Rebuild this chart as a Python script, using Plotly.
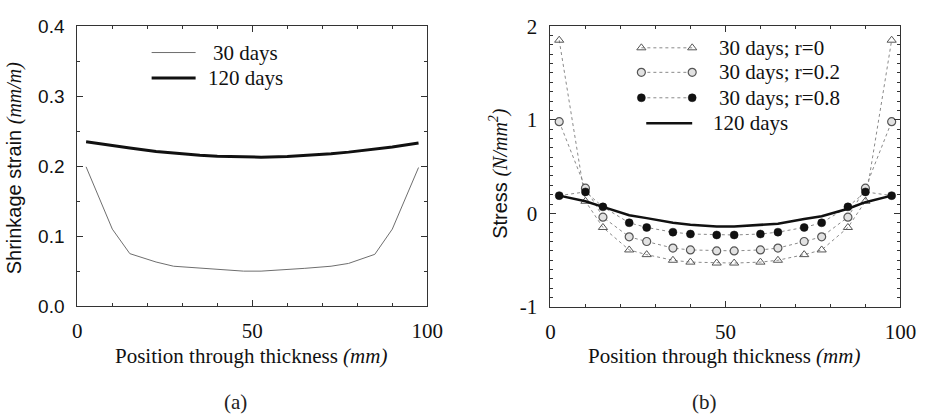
import plotly.graph_objects as go

# ---------------- data ----------------
pos = [2.5, 10, 15, 22.5, 27.5, 35, 40, 47.5, 52.5, 60, 65, 72.5, 77.5, 85, 90, 97.5]

shrink_30 = [0.199, 0.110, 0.075, 0.063, 0.057, 0.054, 0.052, 0.050,
             0.050, 0.052, 0.054, 0.057, 0.061, 0.074, 0.110, 0.198]
shrink_120 = [0.235, 0.2290, 0.2260, 0.2210, 0.2185, 0.2155, 0.2140, 0.2128,
              0.2128, 0.2138, 0.2152, 0.2178, 0.2200, 0.2240, 0.2272, 0.233]

stress_r0 = [1.85, 0.13, -0.15, -0.39, -0.44, -0.50, -0.52, -0.53,
             -0.53, -0.52, -0.50, -0.44, -0.39, -0.15, 0.13, 1.85]
stress_r02 = [0.98, 0.27, -0.04, -0.25, -0.30, -0.37, -0.39, -0.40,
              -0.40, -0.39, -0.37, -0.30, -0.25, -0.04, 0.27, 0.98]
stress_r08 = [0.19, 0.23, 0.07, -0.10, -0.15, -0.20, -0.22, -0.23,
              -0.23, -0.22, -0.20, -0.15, -0.10, 0.07, 0.23, 0.19]
stress_120 = [0.19, 0.13, 0.07, -0.02, -0.05, -0.10, -0.12, -0.14,
              -0.14, -0.12, -0.11, -0.06, -0.03, 0.05, 0.12, 0.19]

stress_ticks = [-1, 0, 1, 2]
stress_ticktext = ["-1", "0", "1", "2"]

legend_a = ["30 days", "120 days"]
legend_b = ["30 days; r=0", "30 days; r=0.2", "30 days; r=0.8", "120 days"]

W, H = 934, 419
SERIF = "Liberation Serif"
SANS = "Liberation Sans"
AX = "#333333"
FS = 21


def px(x):
    return x / W


def py(y):
    return 1 - y / H


fig = go.Figure()

# ---------------- panel (a) ----------------
fig.add_trace(go.Scatter(x=pos, y=shrink_30, mode="lines", xaxis="x", yaxis="y",
                         line=dict(color="#6e6e6e", width=1), showlegend=False))
fig.add_trace(go.Scatter(x=pos, y=shrink_120, mode="lines", xaxis="x", yaxis="y",
                         line=dict(color="#111111", width=3), showlegend=False))

# ---------------- panel (b) ----------------
dot_line = dict(color="#8a8a8a", width=1, dash="dot")
mk_tri = dict(symbol="triangle-up-open", size=8, color="#555555", line=dict(width=1, color="#555555"))
mk_open = dict(symbol="circle", size=8, color="#e2e2e2", line=dict(width=1.2, color="#555555"))
mk_full = dict(symbol="circle", size=8, color="#111111", line=dict(width=0.5, color="#111111"))

fig.add_trace(go.Scatter(x=pos, y=stress_r0, mode="lines+markers", xaxis="x2", yaxis="y2",
                         line=dot_line, marker=mk_tri, showlegend=False))
fig.add_trace(go.Scatter(x=pos, y=stress_r02, mode="lines+markers", xaxis="x2", yaxis="y2",
                         line=dot_line, marker=mk_open, showlegend=False))
fig.add_trace(go.Scatter(x=pos, y=stress_r08, mode="lines+markers", xaxis="x2", yaxis="y2",
                         line=dot_line, marker=mk_full, showlegend=False))
fig.add_trace(go.Scatter(x=pos, y=stress_120, mode="lines", xaxis="x2", yaxis="y2",
                         line=dict(color="#111111", width=2.5), showlegend=False))

# ---------------- hand-drawn legends (pixel overlay axis) ----------------
leg_a_rows = [43, 70]
fig.add_trace(go.Scatter(x=[150, 195], y=[leg_a_rows[0]] * 2, mode="lines", xaxis="x3", yaxis="y3",
                         line=dict(color="#6e6e6e", width=1), showlegend=False, hoverinfo="skip"))
fig.add_trace(go.Scatter(x=[150, 195], y=[leg_a_rows[1]] * 2, mode="lines", xaxis="x3", yaxis="y3",
                         line=dict(color="#111111", width=3), showlegend=False, hoverinfo="skip"))

leg_b_rows = [38, 64, 91, 118]
for row, mk in zip(leg_b_rows[:3], [mk_tri, mk_open, mk_full]):
    fig.add_trace(go.Scatter(x=[651, 703], y=[row] * 2, mode="lines+markers", xaxis="x3", yaxis="y3",
                             line=dot_line, marker=mk, showlegend=False, hoverinfo="skip"))
fig.add_trace(go.Scatter(x=[656, 703], y=[leg_b_rows[3]] * 2, mode="lines", xaxis="x3", yaxis="y3",
                         line=dict(color="#111111", width=2.5), showlegend=False, hoverinfo="skip"))

annotations = []
for txt, row, x0 in zip(legend_a, leg_a_rows, [211, 206]):
    annotations.append(dict(x=px(x0), y=py(row), xref="paper", yref="paper", text=txt,
                            showarrow=False, xanchor="left", yanchor="middle",
                            font=dict(family=SERIF, size=FS, color="#111")))
for txt, row, x0 in zip(legend_b, leg_b_rows, [728, 728, 728, 722]):
    annotations.append(dict(x=px(x0), y=py(row), xref="paper", yref="paper", text=txt,
                            showarrow=False, xanchor="left", yanchor="middle",
                            font=dict(family=SERIF, size=FS, color="#111")))

# axis titles
xt = "Position through thickness <i>(mm)</i>"
annotations.append(dict(x=px(252), y=py(365), xref="paper", yref="paper", text=xt,
                        showarrow=False, xanchor="center", yanchor="middle",
                        font=dict(family=SERIF, size=FS, color="#111")))
annotations.append(dict(x=px(736), y=py(365), xref="paper", yref="paper", text=xt,
                        showarrow=False, xanchor="center", yanchor="middle",
                        font=dict(family=SERIF, size=FS, color="#111")))
annotations.append(dict(x=px(10), y=py(165), xref="paper", yref="paper",
                        text="Shrinkage strain <i><span style=\"font-family:Liberation Serif\">(mm/m)</span></i>",
                        textangle=-90, showarrow=False, xanchor="center", yanchor="middle",
                        font=dict(family=SANS, size=20, color="#111")))
annotations.append(dict(x=px(505), y=py(171), xref="paper", yref="paper",
                        text="Stress <i><span style=\"font-family:Liberation Serif\">(N/mm<sup>2</sup>)</span></i>",
                        textangle=-90, showarrow=False, xanchor="center", yanchor="middle",
                        font=dict(family=SANS, size=20, color="#111")))
# captions
annotations.append(dict(x=px(236), y=py(414), xref="paper", yref="paper", text="(a)",
                        showarrow=False, xanchor="center", yanchor="middle",
                        font=dict(family=SERIF, size=FS, color="#222")))
annotations.append(dict(x=px(716), y=py(414), xref="paper", yref="paper", text="(b)",
                        showarrow=False, xanchor="center", yanchor="middle",
                        font=dict(family=SERIF, size=FS, color="#222")))

common_axis = dict(showline=True, linecolor=AX, linewidth=1, mirror="ticks",
                   ticks="inside", ticklen=6, tickcolor=AX, showgrid=False, zeroline=False)

fig.update_layout(
    width=W, height=H,
    margin=dict(l=0, r=0, t=0, b=0),
    paper_bgcolor="white", plot_bgcolor="rgba(0,0,0,0)",
    annotations=annotations,
    xaxis=dict(domain=[px(74), px(432)], range=[0, 100], dtick=50, anchor="y",
               tickfont=dict(family=SERIF, size=FS, color="#111"), ticklabelstandoff=6,
               minor=dict(dtick=10, ticks="inside", ticklen=3, tickcolor=AX),
               **common_axis),
    yaxis=dict(domain=[py(312), py(15)], range=[0, 0.4], dtick=0.1, tickformat=".1f", anchor="x",
               tickfont=dict(family=SANS, size=19, color="#111"), ticklabelstandoff=8,
               minor=dict(dtick=0.05, ticks="inside", ticklen=3, tickcolor=AX),
               **common_axis),
    xaxis2=dict(domain=[px(558), px(916)], range=[0, 100], dtick=50, anchor="y2",
                tickfont=dict(family=SERIF, size=FS, color="#111"), ticklabelstandoff=6,
                minor=dict(dtick=10, ticks="inside", ticklen=3, tickcolor=AX),
                **common_axis),
    yaxis2=dict(domain=[py(313), py(15)], range=[-1, 2], tickvals=stress_ticks,
                ticktext=stress_ticktext, anchor="x2",
                tickfont=dict(family=SERIF, size=FS, color="#111"), ticklabelstandoff=8,
                minor=dict(dtick=0.1, ticks="inside", ticklen=3, tickcolor=AX),
                **common_axis),
    xaxis3=dict(domain=[0, 1], range=[0, W], visible=False, anchor="y3", fixedrange=True),
    yaxis3=dict(domain=[0, 1], range=[H, 0], visible=False, anchor="x3", fixedrange=True),
)

fig.write_html("out.html")
